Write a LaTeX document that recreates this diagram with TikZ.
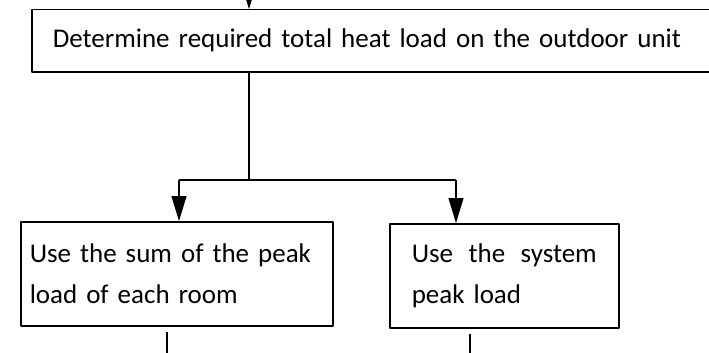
\documentclass[tikz,border=0pt]{standalone}
\usepackage{fontspec}
\setmainfont{Carlito}
\usetikzlibrary{arrows.meta}

\tikzset{
  stagebox/.style={draw, line width=1.5pt, anchor=north west, inner ysep=0pt, align=left},
  link/.style={line width=1.2pt},
}

\begin{document}
\begin{tikzpicture}[x=1pt, y=-1pt, line join=round, >={Triangle[length=25pt,width=15pt]},
    font=\fontsize{27}{41}\selectfont]
  \useasboundingbox (0,0) rectangle (709,353);
  % boxes
  \node[stagebox, inner xsep=21pt, text width=660pt, minimum height=62pt] (total) at (31,9)
    {Determine required total heat load on the outdoor unit};
  \node[stagebox, inner xsep=9pt, text width=294pt, minimum height=104pt] (sum) at (20,221)
    {Use the sum of the peak\\load of each room};
  \node[stagebox, inner xsep=22pt, text width=185pt, minimum height=104pt] (sys) at (389,223)
    {Use\hfill the\hfill system\\peak load};
  % connectors
  \path (249,0) coordinate (in)
    (249,180) coordinate (split)
    (179,180) coordinate (splitL)
    (456,180) coordinate (splitR)
    (167,353) coordinate (outL)
    (470,353) coordinate (outR);
  \draw[link,->] (in) -- (in |- total.north);
  \draw[link] (split |- total.south) -- (split);
  \draw[link] (splitL) -- (splitR);
  \draw[link,->] (splitL) -- (splitL |- sum.north);
  \draw[link,->] (splitR) -- (splitR |- sys.north);
  \draw[link] ([yshift=-5pt]sum.south -| outL) -- (outL);
  \draw[link] ([yshift=-5pt]sys.south -| outR) -- (outR);
\end{tikzpicture}
\end{document}
